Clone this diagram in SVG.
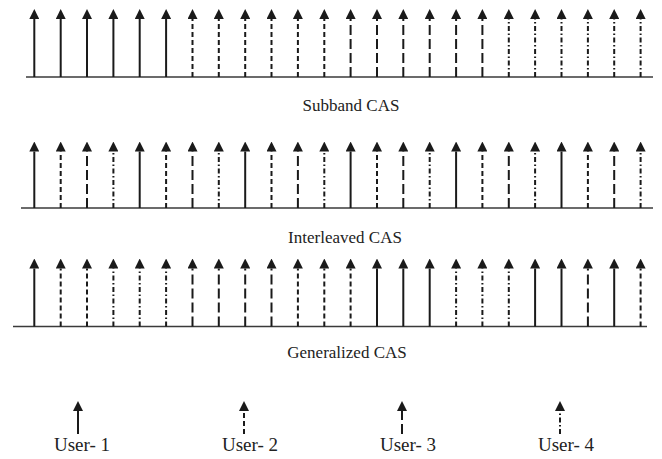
<svg xmlns="http://www.w3.org/2000/svg" width="662" height="459" viewBox="0 0 662 459">
  <style>
    .axis { stroke: #3a3a3a; stroke-width: 1.3; fill: none; }
    .sc { stroke: #1a1a1a; stroke-width: 2; fill: none; marker-end: url(#head); }
    .u1 { }
    .u2 { stroke-dasharray: 5 3; }
    .u3 { stroke-dasharray: 10 4; }
    .u4 { stroke-dasharray: 5 2.5 1.5 2.5; }
    .lbl { font-family: "Liberation Serif", "Times New Roman", serif; font-size: 17px; fill: #222; text-anchor: middle; }
    .ulbl { font-family: "Liberation Serif", "Times New Roman", serif; font-size: 19px; fill: #222; text-anchor: middle; }
  </style>
  <defs>
    <marker id="head" markerUnits="userSpaceOnUse" markerWidth="10" markerHeight="10" viewBox="0 0 9 9" refX="0" refY="4.5" orient="auto">
      <path d="M0,0 L9,4.5 L0,9 z" fill="#1a1a1a"/>
    </marker>
  </defs>

  <!-- Subband CAS: contiguous blocks of six subcarriers per user -->
  <g id="subband">
    <line class="axis" x1="26" y1="77" x2="653" y2="77"/>
    <g id="subband-carriers">
      <line class="sc u1" x1="34.3" y1="77" x2="34.3" y2="19"/>
      <line class="sc u1" x1="60.7" y1="77" x2="60.7" y2="19"/>
      <line class="sc u1" x1="87.0" y1="77" x2="87.0" y2="19"/>
      <line class="sc u1" x1="113.4" y1="77" x2="113.4" y2="19"/>
      <line class="sc u1" x1="139.7" y1="77" x2="139.7" y2="19"/>
      <line class="sc u1" x1="166.1" y1="77" x2="166.1" y2="19"/>
      <line class="sc u2" x1="192.5" y1="77" x2="192.5" y2="19"/>
      <line class="sc u2" x1="218.8" y1="77" x2="218.8" y2="19"/>
      <line class="sc u2" x1="245.2" y1="77" x2="245.2" y2="19"/>
      <line class="sc u2" x1="271.5" y1="77" x2="271.5" y2="19"/>
      <line class="sc u2" x1="297.9" y1="77" x2="297.9" y2="19"/>
      <line class="sc u2" x1="324.3" y1="77" x2="324.3" y2="19"/>
      <line class="sc u3" x1="350.6" y1="77" x2="350.6" y2="19"/>
      <line class="sc u3" x1="377.0" y1="77" x2="377.0" y2="19"/>
      <line class="sc u3" x1="403.3" y1="77" x2="403.3" y2="19"/>
      <line class="sc u3" x1="429.7" y1="77" x2="429.7" y2="19"/>
      <line class="sc u3" x1="456.1" y1="77" x2="456.1" y2="19"/>
      <line class="sc u3" x1="482.4" y1="77" x2="482.4" y2="19"/>
      <line class="sc u4" x1="508.8" y1="77" x2="508.8" y2="19"/>
      <line class="sc u4" x1="535.1" y1="77" x2="535.1" y2="19"/>
      <line class="sc u4" x1="561.5" y1="77" x2="561.5" y2="19"/>
      <line class="sc u4" x1="587.9" y1="77" x2="587.9" y2="19"/>
      <line class="sc u4" x1="614.2" y1="77" x2="614.2" y2="19"/>
      <line class="sc u4" x1="640.6" y1="77" x2="640.6" y2="19"/>
    </g>
    <text class="lbl" x="351" y="111">Subband CAS</text>
  </g>

  <!-- Interleaved CAS: users alternate carrier by carrier -->
  <g id="interleaved">
    <line class="axis" x1="21" y1="208" x2="653" y2="208"/>
    <g id="interleaved-carriers">
      <line class="sc u1" x1="34.3" y1="208" x2="34.3" y2="151.5"/>
      <line class="sc u2" x1="60.7" y1="208" x2="60.7" y2="151.5"/>
      <line class="sc u3" x1="87.0" y1="208" x2="87.0" y2="151.5"/>
      <line class="sc u4" x1="113.4" y1="208" x2="113.4" y2="151.5"/>
      <line class="sc u1" x1="139.7" y1="208" x2="139.7" y2="151.5"/>
      <line class="sc u2" x1="166.1" y1="208" x2="166.1" y2="151.5"/>
      <line class="sc u3" x1="192.5" y1="208" x2="192.5" y2="151.5"/>
      <line class="sc u4" x1="218.8" y1="208" x2="218.8" y2="151.5"/>
      <line class="sc u1" x1="245.2" y1="208" x2="245.2" y2="151.5"/>
      <line class="sc u2" x1="271.5" y1="208" x2="271.5" y2="151.5"/>
      <line class="sc u3" x1="297.9" y1="208" x2="297.9" y2="151.5"/>
      <line class="sc u4" x1="324.3" y1="208" x2="324.3" y2="151.5"/>
      <line class="sc u1" x1="350.6" y1="208" x2="350.6" y2="151.5"/>
      <line class="sc u2" x1="377.0" y1="208" x2="377.0" y2="151.5"/>
      <line class="sc u3" x1="403.3" y1="208" x2="403.3" y2="151.5"/>
      <line class="sc u4" x1="429.7" y1="208" x2="429.7" y2="151.5"/>
      <line class="sc u1" x1="456.1" y1="208" x2="456.1" y2="151.5"/>
      <line class="sc u2" x1="482.4" y1="208" x2="482.4" y2="151.5"/>
      <line class="sc u3" x1="508.8" y1="208" x2="508.8" y2="151.5"/>
      <line class="sc u4" x1="535.1" y1="208" x2="535.1" y2="151.5"/>
      <line class="sc u1" x1="561.5" y1="208" x2="561.5" y2="151.5"/>
      <line class="sc u2" x1="587.9" y1="208" x2="587.9" y2="151.5"/>
      <line class="sc u3" x1="614.2" y1="208" x2="614.2" y2="151.5"/>
      <line class="sc u4" x1="640.6" y1="208" x2="640.6" y2="151.5"/>
    </g>
    <text class="lbl" x="345" y="243">Interleaved CAS</text>
  </g>

  <!-- Generalized CAS: arbitrary assignment of carriers to users -->
  <g id="generalized">
    <line class="axis" x1="13" y1="326.5" x2="647" y2="326.5"/>
    <g id="generalized-carriers">
      <line class="sc u1" x1="34.3" y1="326.5" x2="34.3" y2="268.5"/>
      <line class="sc u2" x1="60.7" y1="326.5" x2="60.7" y2="268.5"/>
      <line class="sc u2" x1="87.0" y1="326.5" x2="87.0" y2="268.5"/>
      <line class="sc u4" x1="113.4" y1="326.5" x2="113.4" y2="268.5"/>
      <line class="sc u4" x1="139.7" y1="326.5" x2="139.7" y2="268.5"/>
      <line class="sc u4" x1="166.1" y1="326.5" x2="166.1" y2="268.5"/>
      <line class="sc u3" x1="192.5" y1="326.5" x2="192.5" y2="268.5"/>
      <line class="sc u3" x1="218.8" y1="326.5" x2="218.8" y2="268.5"/>
      <line class="sc u3" x1="245.2" y1="326.5" x2="245.2" y2="268.5"/>
      <line class="sc u3" x1="271.5" y1="326.5" x2="271.5" y2="268.5"/>
      <line class="sc u2" x1="297.9" y1="326.5" x2="297.9" y2="268.5"/>
      <line class="sc u2" x1="324.3" y1="326.5" x2="324.3" y2="268.5"/>
      <line class="sc u2" x1="350.6" y1="326.5" x2="350.6" y2="268.5"/>
      <line class="sc u1" x1="377.0" y1="326.5" x2="377.0" y2="268.5"/>
      <line class="sc u1" x1="403.3" y1="326.5" x2="403.3" y2="268.5"/>
      <line class="sc u1" x1="429.7" y1="326.5" x2="429.7" y2="268.5"/>
      <line class="sc u4" x1="456.1" y1="326.5" x2="456.1" y2="268.5"/>
      <line class="sc u4" x1="482.4" y1="326.5" x2="482.4" y2="268.5"/>
      <line class="sc u4" x1="508.8" y1="326.5" x2="508.8" y2="268.5"/>
      <line class="sc u1" x1="535.1" y1="326.5" x2="535.1" y2="268.5"/>
      <line class="sc u1" x1="561.5" y1="326.5" x2="561.5" y2="268.5"/>
      <line class="sc u3" x1="587.9" y1="326.5" x2="587.9" y2="268.5"/>
      <line class="sc u1" x1="614.2" y1="326.5" x2="614.2" y2="268.5"/>
      <line class="sc u2" x1="640.6" y1="326.5" x2="640.6" y2="268.5"/>
    </g>
    <text class="lbl" x="347" y="358">Generalized CAS</text>
  </g>

  <!-- Legend: line style per user -->
  <g id="legend">
    <g id="user1">
      <line class="sc u1" x1="78" y1="434" x2="78" y2="411"/>
      <text class="ulbl" x="82" y="451">User- 1</text>
    </g>
    <g id="user2">
      <line class="sc u2" x1="244" y1="434" x2="244" y2="411"/>
      <text class="ulbl" x="250" y="451">User- 2</text>
    </g>
    <g id="user3">
      <line class="sc u3" x1="402" y1="434" x2="402" y2="411"/>
      <text class="ulbl" x="408" y="451">User- 3</text>
    </g>
    <g id="user4">
      <line class="sc u4" x1="560" y1="434" x2="560" y2="411"/>
      <text class="ulbl" x="566" y="451">User- 4</text>
    </g>
  </g>
</svg>
